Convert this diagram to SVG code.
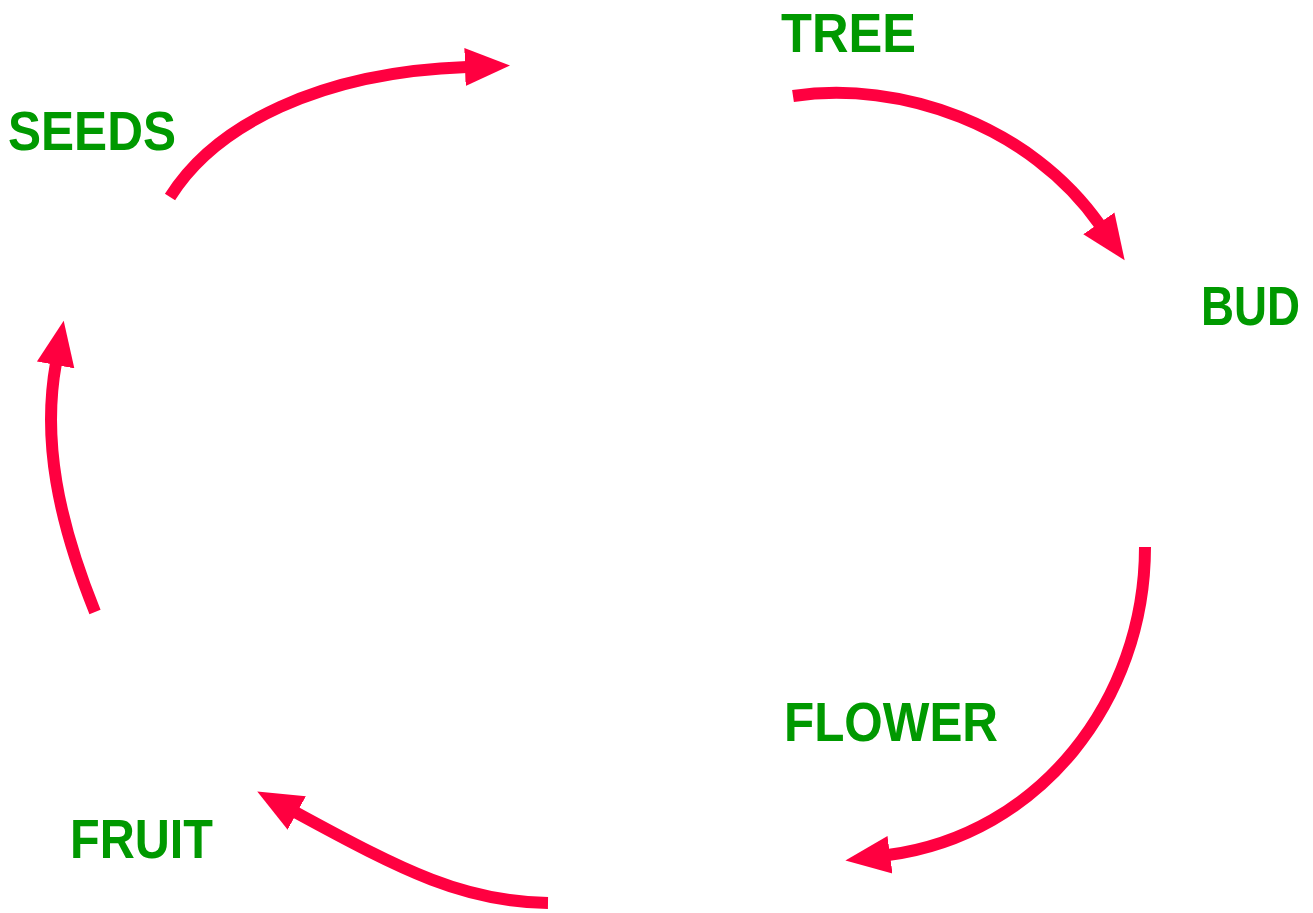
<svg xmlns="http://www.w3.org/2000/svg" width="1313" height="913" viewBox="0 0 1313 913">
<style>
.lbl{font-family:"Liberation Sans",Arial,sans-serif;font-weight:bold;font-size:55px;fill:#009900}
.arr{fill:none;stroke:#ff0040;stroke-width:12;marker-end:url(#ah)}
</style>
<defs>
<marker id="ah" markerUnits="userSpaceOnUse" markerWidth="46" markerHeight="40" viewBox="0 0 46 40" refX="2" refY="20" orient="auto">
<path d="M0,1 L45,20 L0,39 z" fill="#ff0040"/>
</marker>
</defs>
<rect width="1313" height="913" fill="#ffffff"/>
<g id="seeds"><text class="lbl" x="8" y="150" textLength="168" lengthAdjust="spacingAndGlyphs">SEEDS</text></g>
<g id="tree"><text class="lbl" x="781" y="52" textLength="135" lengthAdjust="spacingAndGlyphs">TREE</text></g>
<g id="bud"><text class="lbl" x="1201" y="325" textLength="99" lengthAdjust="spacingAndGlyphs">BUD</text></g>
<g id="flower"><text class="lbl" x="784" y="741" textLength="214" lengthAdjust="spacingAndGlyphs">FLOWER</text></g>
<g id="fruit"><text class="lbl" x="70" y="858" textLength="143" lengthAdjust="spacingAndGlyphs">FRUIT</text></g>
<g id="connectors">
<path class="arr" d="M170,197 C215,125 320,72 467,67"/>
<path class="arr" d="M793,96 C900,80 1030,125 1100,225"/>
<path class="arr" d="M1145,547 C1145,700 1040,835 888,855"/>
<path class="arr" d="M548,903 C465,902 405,872 295,812"/>
<path class="arr" d="M95,612 C58,520 42,440 56,363"/>
</g>
</svg>
